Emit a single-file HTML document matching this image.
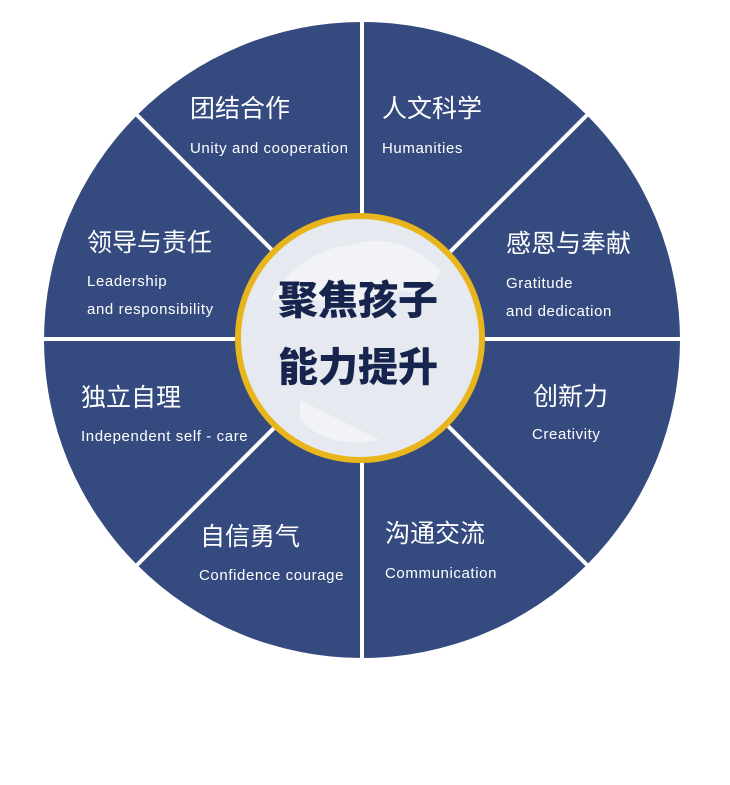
<!DOCTYPE html>
<html><head><meta charset="utf-8"><style>
body{margin:0;background:#fff;}
svg{display:block}
.cn{font-family:"Liberation Sans","Noto Sans CJK SC",sans-serif;font-size:25px;fill:#fff;}
.en{font-family:"Liberation Sans",sans-serif;font-size:15px;fill:#fff;letter-spacing:0.6px}
.c{font-family:"Liberation Sans","Noto Sans CJK SC",sans-serif;font-size:40px;font-weight:900;fill:#17244d;}
</style></head><body>
<svg width="730" height="785" viewBox="0 0 730 785">
<circle cx="362" cy="340" r="318" fill="#354b7f"/>
<g stroke="#fff" stroke-width="4">
<line x1="362" y1="15" x2="362" y2="665"/>
<line x1="40" y1="339" x2="685" y2="339"/>
<line x1="137" y1="115" x2="587" y2="565"/>
<line x1="587" y1="115" x2="137" y2="565"/>
</g>
<circle cx="360" cy="338" r="122" fill="#e6e9f0" stroke="#e8b51c" stroke-width="6"/>
<path d="M270 300 Q300 250 350 245 Q400 230 440 270 Q430 300 400 290 Q380 310 350 300 Z" fill="#f4f5f8" opacity="0.8"/>
<path d="M300 400 Q340 420 380 440 Q330 450 300 420 Z" fill="#f4f5f8" opacity="0.8"/>
<text class="c" x="358" y="314" text-anchor="middle">聚焦孩子</text>
<text class="c" x="358" y="381" text-anchor="middle">能力提升</text>
<text class="cn" x="190" y="117">团结合作</text>
<text class="en" x="190" y="153">Unity and cooperation</text>
<text class="cn" x="382" y="117">人文科学</text>
<text class="en" x="382" y="153">Humanities</text>
<text class="cn" x="87" y="251">领导与责任</text>
<text class="en" x="87" y="286">Leadership</text>
<text class="en" x="87" y="314">and responsibility</text>
<text class="cn" x="506" y="252">感恩与奉献</text>
<text class="en" x="506" y="288">Gratitude</text>
<text class="en" x="506" y="316">and dedication</text>
<text class="cn" x="81" y="406">独立自理</text>
<text class="en" x="81" y="441">Independent self - care</text>
<text class="cn" x="533" y="405">创新力</text>
<text class="en" x="532" y="439">Creativity</text>
<text class="cn" x="200" y="545">自信勇气</text>
<text class="en" x="199" y="580">Confidence  courage</text>
<text class="cn" x="385" y="542">沟通交流</text>
<text class="en" x="385" y="578">Communication</text>
</svg>
</body></html>
